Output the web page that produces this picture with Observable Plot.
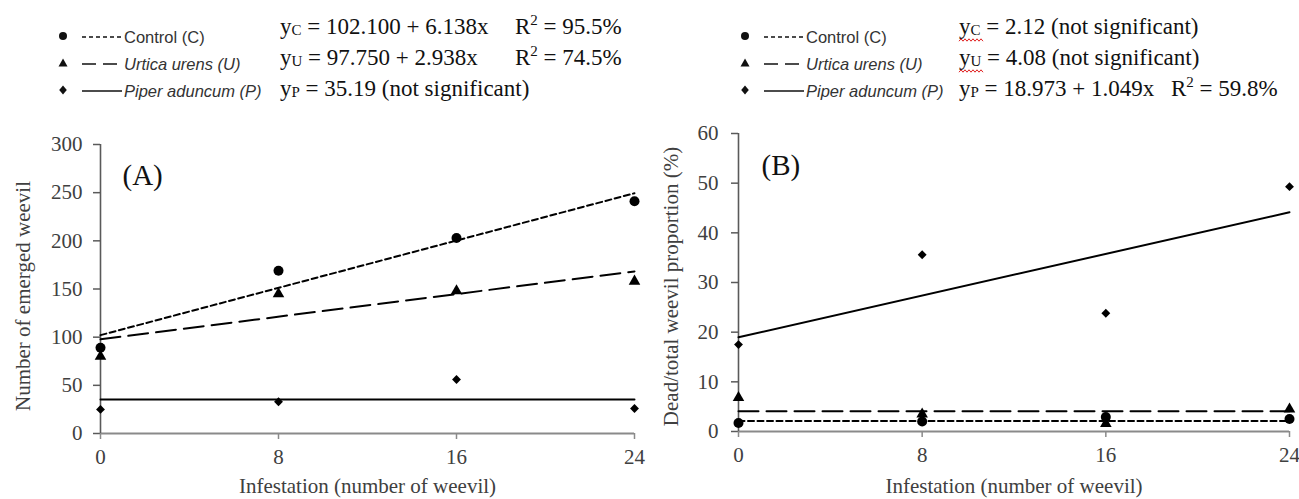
<!DOCTYPE html>
<html><head><meta charset="utf-8">
<script src="https://cdn.jsdelivr.net/npm/d3@7"></script>
<script src="https://cdn.jsdelivr.net/npm/@observablehq/plot@0.6"></script>
<style>
html,body{margin:0;padding:0;background:#fff;}
#wrap{position:relative;width:1299px;height:499px;overflow:hidden;background:#fff;}
#legend{position:absolute;left:0;top:0;}
#pa{position:absolute;left:0;top:110px;}
#pb{position:absolute;left:650px;top:110px;}
svg{overflow:visible;}
</style></head><body>
<div id="wrap"><svg id="legend" width="1299" height="110"></svg><div id="pa"></div><div id="pb"></div></div>
<script>
// ---------- data ----------
const infestation = [0, 8, 16, 24];
const seriesKeys = ["C", "U", "P"];
const seriesNames = ["Control (C)", "Urtica urens (U)", "Piper aduncum (P)"];
const seriesItalic = [false, true, true];

// Panel A: number of emerged weevil
const emergedControl = [89, 169, 203, 241];
const emergedUrtica = [80, 145, 148, 158];
const emergedPiper = [25, 33, 56, 26];
const interceptA = [102.100, 97.750, 35.19];
const slopeA = [6.138, 2.938, 0];
const equationA = ["= 102.100 + 6.138x", "= 97.750 + 2.938x", "= 35.19 (not significant)"];
const r2A = ["95.5%", "74.5%", null];

// Panel B: dead/total weevil proportion (%)
const deadControl = [1.7, 2.0, 2.9, 2.5];
const deadUrtica = [6.8, 3.5, 1.6, 4.5];
const deadPiper = [17.5, 35.6, 23.8, 49.3];
const interceptB = [2.12, 4.08, 18.973];
const slopeB = [0, 0, 1.049];
const equationB = ["= 2.12 (not significant)", "= 4.08 (not significant)", "= 18.973 + 1.049x"];
const r2B = [null, null, "59.8%"];

const yTicksA = [0, 50, 100, 150, 200, 250, 300];
const yTicksB = [0, 10, 20, 30, 40, 50, 60];
const xTicks = [0, 8, 16, 24];

// ---------- styles ----------
const SERIF = "'Liberation Serif','Times New Roman',serif";
const SANS = "'Liberation Sans',Arial,sans-serif";
const symbols = ["circle", "triangle", "diamond2"];
const symbolR = [5, 4.3, 4];
const dashes = ["6,3.5", "20,8", null];

function panel(o) {
  const marks = [
    Plot.axisY({ticks: o.yTicks, tickSize: 7, tickPadding: o.tickPadY, fontSize: 21, fontFamily: SERIF,
      stroke: "#5a5a5a", fill: "#404040", label: null, strokeWidth: 1.5}),
    Plot.axisX({ticks: xTicks, tickSize: 6, tickPadding: 10, fontSize: 21, fontFamily: SERIF,
      stroke: "#8a8a8a", fill: "#404040", label: null, strokeWidth: 1.5}),
    Plot.ruleY([0], {stroke: "#8a8a8a", strokeWidth: 2}),
    Plot.ruleX([0], {stroke: "#5a5a5a", strokeWidth: 1.6})
  ];
  o.series.forEach((vals, i) => {
    const a = o.intercepts[i], b = o.slopes[i];
    const x0 = infestation[0], x1 = infestation[infestation.length - 1];
    const fit = [{x: x0, y: a + b * x0}, {x: x1, y: a + b * x1}];
    const lineOpts = {x: "x", y: "y", stroke: "black", strokeWidth: 2};
    if (dashes[i]) lineOpts.strokeDasharray = dashes[i];
    marks.push(Plot.line(fit, lineOpts));
  });
  o.series.forEach((vals, i) => {
    const pts = infestation.map((x, j) => ({x, y: vals[j]}));
    marks.push(Plot.dot(pts, {x: "x", y: "y", symbol: symbols[i], r: symbolR[i], fill: "black", stroke: "none"}));
  });
  marks.push(Plot.text([o.ytitle], {text: d => d, frameAnchor: "left", textAnchor: "middle", lineAnchor: "middle",
    rotate: -90, dx: o.ytitleDx, dy: o.ytitleDy, fontSize: 21, fontFamily: SERIF, fill: "#404040"}));
  marks.push(Plot.text(["Infestation (number of weevil)"], {text: d => d, frameAnchor: "bottom", lineAnchor: "middle",
    dy: o.xtitleDy, fontSize: 21, fontFamily: SERIF, fill: "#404040"}));
  marks.push(Plot.text([o.tag], {text: d => d, frameAnchor: "top-left", textAnchor: "start", lineAnchor: "middle",
    dx: o.tagDx, dy: o.tagDy, fontSize: 29, fontFamily: SERIF, fill: "#111"}));
  return Plot.plot({
    width: o.width, height: 389,
    marginLeft: o.marginLeft, marginRight: o.marginRight, marginTop: o.marginTop, marginBottom: o.marginBottom,
    x: {domain: [0, 24], axis: null},
    y: {domain: [0, o.yMax], axis: null},
    style: {fontFamily: SERIF, background: "transparent", overflow: "visible"},
    marks
  });
}

document.getElementById("pa").append(panel({
  width: 650, marginLeft: 100, marginRight: 16, marginTop: 34, marginBottom: 66,
  yMax: 300, yTicks: yTicksA, tickPadY: 11,
  series: [emergedControl, emergedUrtica, emergedPiper], intercepts: interceptA, slopes: slopeA,
  ytitle: "Number of emerged weevil", ytitleDx: -77, ytitleDy: 7, xtitleDy: 53,
  tag: "(A)", tagDx: 22, tagDy: 31
}));
document.getElementById("pb").append(panel({
  width: 649, marginLeft: 88, marginRight: 10, marginTop: 23, marginBottom: 68,
  yMax: 60, yTicks: yTicksB, tickPadY: 13,
  series: [deadControl, deadUrtica, deadPiper], intercepts: interceptB, slopes: slopeB,
  ytitle: "Dead/total weevil proportion (%)", ytitleDx: -67, ytitleDy: 4, xtitleDy: 55,
  tag: "(B)", tagDx: 23, tagDy: 32
}));

// ---------- legends ----------
const lg = d3.select("#legend");
const legSym = [
  "M0,-4A4,4 0 1,1 0,4A4,4 0 1,1 0,-4Z",
  "M0,-4.5L4.5,3.5L-4.5,3.5Z",
  "M0,-4.5L3.8,0L0,4.5L-3.8,0Z"
];
const legDash = ["4,3", "14,7", null];
const rowY = [36, 63, 90];
const eqBase = [34, 65, 96];

function drawLegend(x0, eqX, rX, eqs, r2s, wavy) {
  const g = lg.append("g");
  seriesNames.forEach((name, i) => {
    g.append("path").attr("d", legSym[i]).attr("transform", `translate(${x0},${rowY[i]})`).attr("fill", "#111");
    const ln = g.append("line").attr("x1", x0 + 19).attr("x2", x0 + 59).attr("y1", rowY[i] + 1).attr("y2", rowY[i] + 1)
      .attr("stroke", "#111").attr("stroke-width", 1.5);
    if (legDash[i]) ln.attr("stroke-dasharray", legDash[i]);
    g.append("text").attr("x", x0 + 61).attr("y", rowY[i] + 7).attr("font-family", SANS).attr("font-size", 16.5)
      .attr("font-style", seriesItalic[i] ? "italic" : "normal").attr("fill", "#333").text(name);

    const t = g.append("text").attr("x", eqX).attr("y", eqBase[i]).attr("font-family", SERIF).attr("font-size", 23)
      .attr("fill", "#111").style("white-space", "pre");
    t.append("tspan").text("y");
    t.append("tspan").attr("font-size", 15).attr("dy", 1).text(seriesKeys[i]);
    t.append("tspan").attr("dy", -1).text(" " + eqs[i]);
    if (r2s[i]) {
      const r = g.append("text").attr("x", rX).attr("y", eqBase[i]).attr("font-family", SERIF).attr("font-size", 23)
        .attr("fill", "#111").style("white-space", "pre");
      r.append("tspan").text("R");
      r.append("tspan").attr("font-size", 15).attr("dy", -9).text("2");
      r.append("tspan").attr("dy", 9).text(" = " + r2s[i]);
    }
    if (wavy && !r2s[i]) {
      const pts = [];
      for (let k = 0; k <= 12; k++) pts.push([eqX + k * 2, eqBase[i] + 6 + (k % 2 ? -1.2 : 1.2)]);
      g.append("path").attr("d", d3.line()(pts)).attr("fill", "none").attr("stroke", "#e02020").attr("stroke-width", 1);
    }
  });
}
drawLegend(63, 280, 515, equationA, r2A, false);
drawLegend(745, 959, 1171, equationB, r2B, true);
</script>
</body></html>
